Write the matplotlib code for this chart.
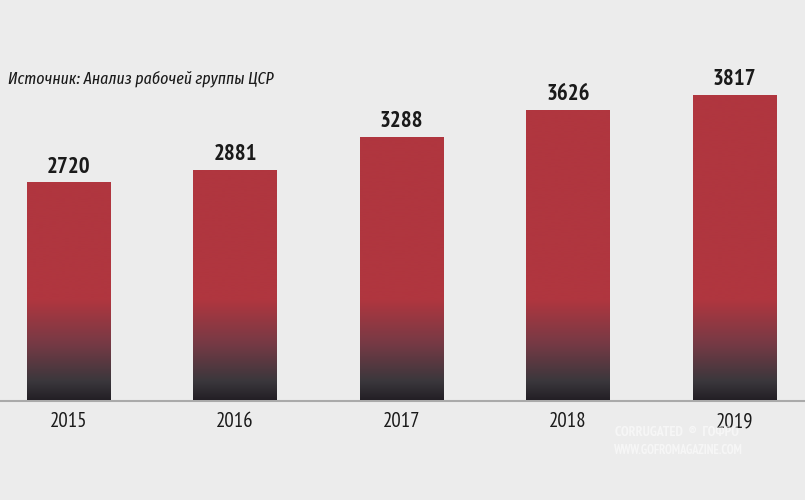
import numpy as np
import matplotlib
matplotlib.use("Agg")
import matplotlib.pyplot as plt
from matplotlib.colors import to_rgb

years = ["2015", "2016", "2017", "2018", "2019"]
values = [2720, 2881, 3288, 3626, 3817]
title = "Источник: Анализ рабочей группы ЦСР"

BG = "#ececec"
FONT = ["PT Sans Narrow", "Roboto Condensed", "IBM Plex Sans Condensed", "DejaVu Sans"]
FONT_IT = ["Fira Sans Extra Condensed", "Roboto Condensed", "IBM Plex Sans Condensed", "DejaVu Sans"]
plt.rcParams["font.family"] = FONT

fig = plt.figure(figsize=(8.05, 5.0), dpi=100, facecolor=BG)
ax = fig.add_axes([0, 0, 1, 1])
ax.set_facecolor(BG)
x = np.arange(len(years))
ax.set_xlim(-0.411, 4.423)
ax.set_ylim(-1250, 5000)
ax.axis("off")

# gradient image (data coordinates), clipped to each bar
stops = [(0, "#231f25"), (230, "#3a373c"), (700, "#763a45"), (1250, "#b0363f"), (5000, "#b0363f")]
ys = np.linspace(0, 5000, 1000)
sy = [s[0] for s in stops]
cols = np.array([to_rgb(s[1]) for s in stops])
img = np.stack([np.interp(ys, sy, cols[:, k]) for k in range(3)], axis=-1)
img = img[:, None, :]

bars = ax.bar(x, values, width=0.5, color="#b0363f", zorder=2)
for b in bars:
    im = ax.imshow(img, extent=(-0.411, 4.423, 0, 5000), origin="lower",
                   aspect="auto", zorder=3, interpolation="bilinear")
    im.set_clip_path(b)

ax.axhline(-12, color="#aaaaaa", lw=1.5, zorder=1)

for xi, v in zip(x, values):
    ax.text(xi, v + 60, str(v), ha="center", va="bottom", fontsize=16.5,
            fontweight="bold", color="#1a1a1a", zorder=4)
for xi, yr in zip(x, years):
    ax.text(xi, -150, yr, ha="center", va="top", fontsize=15, color="#1a1a1a")

fig.text(8 / 805, 1 - 79 / 500, title, ha="left", va="center", fontsize=12.4,
         style="italic", color="#1a1a1a", family=FONT_IT)

# watermark
fig.text(677 / 805, 1 - 433 / 500, "CORRUGATED  ®  ГОФРО", ha="center", va="center",
         fontsize=10, fontweight="bold", color="white", alpha=0.55)
fig.text(677 / 805, 1 - 450 / 500, "WWW.GOFROMAGAZINE.COM", ha="center", va="center",
         fontsize=9, fontweight="bold", color="white", alpha=0.55)

fig.savefig("out.png", dpi=100, facecolor=BG)
